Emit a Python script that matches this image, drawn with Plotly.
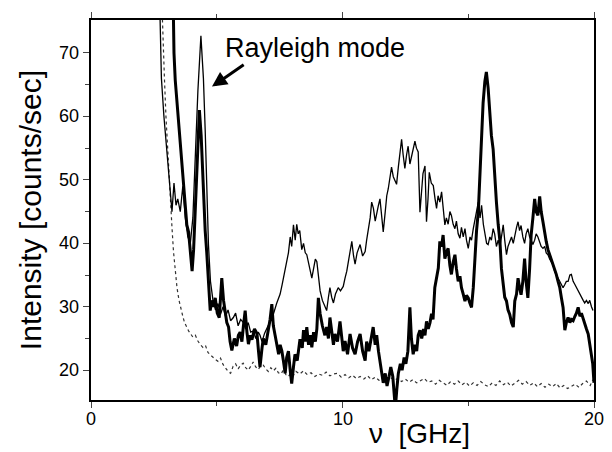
import plotly.graph_objects as go

# ---- data ----
thin_pts = [
    (2.72, 80), (2.80, 66), (2.90, 60), (3.00, 55), (3.10, 50), (3.22, 45), (3.30, 49.5), (3.38, 46),
    (3.45, 47), (3.55, 45), (3.65, 49), (3.75, 44), (3.85, 41), (3.95, 40), (4.05, 44), (4.15, 54),
    (4.25, 64), (4.37, 72.7), (4.47, 66), (4.54, 57.9), (4.60, 48), (4.67, 39.8), (4.75, 34), (4.85, 31),
    (4.95, 29.5), (5.05, 30.5), (5.15, 28.8), (5.25, 30), (5.35, 28.5), (5.45, 29.5), (5.55, 27.8),
    (5.66, 28.3), (5.75, 29), (5.85, 27), (5.95, 28), (6.06, 27.5), (6.15, 26.5), (6.25, 27.5), (6.35, 26),
    (6.46, 26.2), (6.55, 25), (6.65, 26), (6.72, 25.5), (6.80, 24.5), (6.90, 25.8), (6.99, 26.6),
    (7.10, 27.5), (7.25, 28.8), (7.38, 30.5), (7.52, 32), (7.60, 33.5), (7.70, 35.5), (7.78, 36.6),
    (7.85, 38.5), (7.92, 41), (7.98, 39.5), (8.05, 42.9), (8.12, 40.5), (8.18, 43), (8.24, 41.5),
    (8.30, 42), (8.38, 39), (8.45, 40), (8.52, 38.5), (8.58, 38.2), (8.65, 37), (8.72, 35.5), (8.78, 34.5),
    (8.85, 36), (8.92, 37.5), (8.98, 37.1), (9.05, 34), (9.11, 32.5), (9.20, 31), (9.30, 29.9), (9.37, 29.4),
    (9.44, 31.5), (9.50, 33), (9.57, 31.5), (9.64, 30.6), (9.72, 32), (9.83, 33), (9.92, 32.5), (10.03, 33.2),
    (10.10, 34.5), (10.17, 35.6), (10.25, 37.5), (10.30, 38.5), (10.37, 40.3), (10.44, 38), (10.50, 36.7),
    (10.58, 38.5), (10.65, 39.5), (10.70, 39.8), (10.80, 38), (10.90, 38.7), (10.96, 40.5), (11.03, 42.3),
    (11.10, 44), (11.16, 46.5), (11.23, 45.5), (11.30, 43.5), (11.36, 44.9), (11.43, 46), (11.49, 47),
    (11.56, 44.5), (11.62, 41.8), (11.70, 45), (11.76, 47.5), (11.82, 48.6), (11.88, 50), (11.95, 52),
    (12.02, 50.5), (12.08, 50), (12.15, 49.3), (12.22, 52), (12.28, 54.5), (12.35, 56.4), (12.41, 54),
    (12.48, 51.8), (12.55, 54), (12.61, 55.3), (12.68, 52.5), (12.74, 53.7), (12.81, 55), (12.88, 56.1),
    (12.94, 55), (13.01, 54.4), (13.08, 44.9), (13.14, 48), (13.20, 51), (13.28, 52.2), (13.34, 43.4),
    (13.40, 47), (13.45, 51.2), (13.53, 49.5), (13.61, 49.1), (13.68, 47), (13.74, 45.5), (13.80, 47.5),
    (13.87, 46.5), (13.94, 48.1), (14.00, 45), (14.07, 42.9), (14.13, 44), (14.20, 43), (14.27, 45),
    (14.33, 44.4), (14.40, 43), (14.47, 42.3), (14.53, 43.5), (14.60, 41.5), (14.67, 40.8), (14.73, 42.5),
    (14.80, 41), (14.87, 42.3), (14.93, 40.5), (15.00, 39.2), (15.07, 41), (15.13, 40.5), (15.20, 42.3),
    (15.27, 44), (15.33, 45.5), (15.40, 46.5), (15.47, 44), (15.53, 46), (15.60, 43), (15.67, 41),
    (15.73, 40), (15.79, 39.8), (15.86, 41), (15.92, 40.5), (15.99, 42.3), (16.05, 41.5), (16.12, 39.5),
    (16.19, 40.5), (16.26, 39.5), (16.32, 41), (16.39, 42.9), (16.45, 40.5), (16.52, 38.2), (16.58, 39.5),
    (16.65, 40.3), (16.72, 41), (16.79, 40), (16.85, 41.5), (16.92, 42.5), (16.98, 43.4), (17.04, 42),
    (17.10, 42.8), (17.17, 41), (17.24, 40), (17.30, 41.5), (17.37, 42.3), (17.44, 41), (17.50, 40.5),
    (17.57, 39.8), (17.64, 40.5), (17.70, 41.5), (17.77, 41), (17.84, 40), (17.90, 39.5), (17.97, 39.2),
    (18.04, 39.5), (18.10, 38.5), (18.17, 38.2), (18.24, 37.5), (18.30, 37), (18.37, 36.6), (18.44, 35.5),
    (18.50, 35), (18.57, 34.5), (18.64, 34), (18.70, 33.5), (18.77, 33), (18.84, 33.5), (18.90, 34),
    (18.97, 34), (19.04, 35), (19.10, 35.1), (19.17, 34), (19.24, 33.5), (19.30, 33), (19.37, 32.5),
    (19.43, 32), (19.50, 31.5), (19.57, 31), (19.63, 30.6), (19.70, 31), (19.77, 30.5), (19.83, 31),
    (19.90, 30), (19.96, 29.4),
]

thick_pts = [
    (3.24, 85), (3.30, 70), (3.35, 65.7), (3.48, 59), (3.61, 52.7), (3.74, 47), (3.81, 42.9), (3.88, 41.8),
    (3.95, 38), (4.02, 35.6), (4.08, 39), (4.15, 46), (4.22, 54), (4.31, 61), (4.38, 57), (4.46, 48),
    (4.54, 42), (4.60, 38.7), (4.67, 33.5), (4.74, 29.4), (4.80, 31), (4.87, 30), (4.94, 31.4), (5.02, 29),
    (5.10, 28.3), (5.20, 34.5), (5.27, 31), (5.33, 29), (5.40, 27.5), (5.47, 26.8), (5.53, 24.5), (5.60, 23.1),
    (5.70, 25), (5.79, 23.8), (5.86, 25.5), (5.93, 26), (6.00, 24.5), (6.06, 27), (6.13, 29.4), (6.20, 26),
    (6.26, 24.1), (6.33, 25.5), (6.40, 24.8), (6.50, 26.5), (6.60, 25.8), (6.66, 23), (6.72, 20.5),
    (6.80, 23.5), (6.85, 25), (6.95, 24), (7.05, 26), (7.12, 28), (7.19, 30.4), (7.25, 27), (7.32, 25.5),
    (7.40, 23.5), (7.46, 22.5), (7.52, 24), (7.59, 23), (7.65, 21.5), (7.72, 19.5), (7.78, 22), (7.85, 23),
    (7.92, 20), (7.98, 17.9), (8.05, 20.5), (8.11, 22.5), (8.20, 21.5), (8.31, 24.9), (8.40, 23.5),
    (8.45, 26.3), (8.52, 24.5), (8.58, 26.8), (8.65, 24), (8.72, 25.5), (8.78, 23.6), (8.85, 26),
    (8.92, 24.5), (8.98, 26.5), (9.04, 31.4), (9.11, 28.9), (9.20, 27), (9.30, 25.5), (9.37, 26.8),
    (9.44, 25), (9.50, 28.3), (9.57, 26), (9.64, 24), (9.70, 25.7), (9.80, 24.5), (9.90, 27.7), (9.96, 25),
    (10.03, 23), (10.10, 24.6), (10.20, 22.5), (10.30, 25.7), (10.40, 23.5), (10.50, 22.5), (10.60, 24.5),
    (10.70, 25.7), (10.80, 23), (10.90, 21.5), (10.96, 24.5), (11.05, 23), (11.15, 25), (11.22, 26.8),
    (11.30, 24), (11.36, 25.5), (11.43, 23), (11.49, 21.5), (11.55, 20), (11.62, 18), (11.70, 19.5),
    (11.77, 17.5), (11.85, 19), (11.92, 20.5), (12.00, 19), (12.06, 16), (12.10, 14), (12.16, 17),
    (12.22, 19.5), (12.30, 21), (12.37, 20), (12.45, 22), (12.52, 21), (12.60, 23), (12.68, 29.9),
    (12.74, 25), (12.81, 22.5), (12.88, 24), (12.95, 23), (13.01, 25.5), (13.08, 26.3), (13.15, 25),
    (13.22, 26.5), (13.28, 25.5), (13.34, 27.7), (13.41, 26.5), (13.48, 27.5), (13.54, 28.9), (13.60, 28),
    (13.67, 33), (13.74, 34.5), (13.81, 36.1), (13.87, 40.3), (13.94, 39.5), (14.00, 41.3), (14.07, 37.6),
    (14.13, 38.5), (14.20, 39.2), (14.27, 36.5), (14.33, 35.1), (14.40, 37), (14.47, 38.2), (14.53, 36),
    (14.60, 34), (14.67, 34.8), (14.73, 33), (14.80, 32), (14.87, 30.9), (14.93, 31.8), (15.00, 31.4),
    (15.07, 30.5), (15.13, 29.9), (15.20, 33), (15.26, 38.2), (15.33, 42), (15.40, 45), (15.46, 51.2),
    (15.52, 56), (15.59, 62.1), (15.66, 65.5), (15.72, 67), (15.79, 64.5), (15.86, 60.2), (15.92, 57),
    (15.99, 54.8), (16.05, 50), (16.12, 46.5), (16.19, 43), (16.26, 40.3), (16.32, 36), (16.39, 33),
    (16.45, 31.5), (16.52, 30.9), (16.58, 29.5), (16.65, 28.8), (16.72, 27.5), (16.79, 26.8), (16.85, 30.9),
    (16.92, 32), (16.98, 34.5), (17.04, 33), (17.10, 31.9), (17.17, 34), (17.24, 37.6), (17.30, 34),
    (17.37, 31.4), (17.44, 36), (17.50, 41.3), (17.57, 44), (17.64, 47), (17.70, 45), (17.77, 44.4),
    (17.84, 47.4), (17.90, 45), (17.97, 43.4), (18.04, 41.5), (18.10, 40.3), (18.17, 39), (18.24, 38.2),
    (18.30, 37.5), (18.37, 36.6), (18.44, 35.8), (18.50, 35.1), (18.57, 34), (18.64, 33), (18.70, 31.5),
    (18.77, 29.9), (18.84, 26.3), (18.90, 27.5), (18.97, 28.3), (19.04, 27.5), (19.10, 28), (19.17, 27.8),
    (19.24, 28.5), (19.30, 29), (19.37, 29.9), (19.44, 28.5), (19.50, 29), (19.57, 28), (19.63, 27.3),
    (19.70, 26.5), (19.77, 25.7), (19.84, 24), (19.90, 22), (19.95, 21), (20.00, 18),
]

dotted_pts = [
    (2.80, 80), (2.86, 72), (2.92, 66), (2.98, 60), (3.04, 55), (3.10, 50.5), (3.16, 46.5), (3.22, 42.5),
    (3.28, 38.7), (3.35, 35.5), (3.42, 33), (3.50, 31), (3.58, 29.5), (3.65, 28.5), (3.72, 27.5),
    (3.80, 26.8), (3.88, 26.2), (3.95, 25.8), (4.05, 25.2), (4.15, 25.5), (4.25, 24.6), (4.35, 24.0),
    (4.45, 23.6), (4.55, 23.9), (4.65, 22.8), (4.75, 22.4), (4.85, 22.0), (4.95, 21.7), (5.05, 21.4),
    (5.15, 21.9), (5.25, 20.9), (5.35, 20.3), (5.45, 19.8), (5.55, 19.5), (5.65, 20.6), (5.75, 21.0),
    (5.85, 20.2), (5.95, 20.8), (6.05, 21.1), (6.15, 20.4), (6.25, 20.0), (6.35, 20.6), (6.45, 21.3),
    (6.55, 20.5), (6.65, 20.1), (6.75, 20.7), (6.85, 20.8), (6.95, 20.2), (7.05, 19.8), (7.15, 20.4),
    (7.25, 19.9), (7.35, 20.3), (7.45, 19.6), (7.55, 19.4), (7.65, 20.0), (7.75, 19.3), (7.85, 19.0),
    (7.95, 19.6), (8.05, 19.2), (8.15, 19.8), (8.30, 19.4), (8.45, 19.9), (8.60, 19.3), (8.75, 19.6),
    (8.90, 19.0), (9.05, 19.4), (9.20, 19.2), (9.35, 19.7), (9.50, 19.1), (9.65, 19.4), (9.80, 19.5),
    (9.95, 18.9), (10.10, 19.3), (10.25, 18.8), (10.40, 19.2), (10.55, 18.7), (10.70, 19.0), (10.85, 18.6),
    (11.00, 19.1), (11.15, 18.5), (11.30, 18.9), (11.45, 18.4), (11.60, 18.8), (11.75, 18.3), (11.90, 18.9),
    (12.05, 18.4), (12.20, 18.7), (12.35, 18.2), (12.50, 18.6), (12.65, 18.1), (12.80, 18.5), (12.95, 18.0),
    (13.10, 18.4), (13.25, 18.7), (13.40, 18.1), (13.55, 18.3), (13.70, 17.8), (13.85, 18.4), (14.00, 18.0),
    (14.15, 17.6), (14.30, 18.2), (14.45, 17.8), (14.60, 18.3), (14.75, 17.7), (14.90, 18.1), (15.05, 17.5),
    (15.20, 18.0), (15.35, 17.6), (15.50, 18.2), (15.65, 17.7), (15.80, 17.4), (15.95, 18.0), (16.10, 17.6),
    (16.25, 18.3), (16.40, 17.7), (16.55, 18.1), (16.70, 17.5), (16.85, 18.0), (17.00, 18.4), (17.15, 17.8),
    (17.30, 18.2), (17.45, 17.6), (17.60, 18.0), (17.75, 17.4), (17.90, 17.9), (18.05, 17.3), (18.20, 17.8),
    (18.35, 17.4), (18.50, 17.9), (18.65, 17.2), (18.80, 17.6), (18.95, 17.1), (19.10, 17.5), (19.25, 17.8),
    (19.40, 17.3), (19.55, 17.9), (19.70, 18.3), (19.85, 17.6), (19.95, 18.5),
]

x_ticks = [0, 10, 20]
x_minor = [5, 15]
y_ticks = [20, 30, 40, 50, 60, 70]
y_minor = [25, 35, 45, 55, 65]
x_range = [0, 20]
y_range = [15.3, 75.2]

annot_text = "Rayleigh mode"
annot_pos = (5.25, 70.8)
arrow_tip = (4.81, 64.7)
arrow_tail = (6.13, 68.3)

def unzip(pts):
    return [p[0] for p in pts], [p[1] for p in pts]

fig = go.Figure()
dx, dy = unzip(dotted_pts)
fig.add_trace(go.Scatter(x=dx, y=dy, mode="lines",
                         line=dict(color="#333", width=1.2, dash="dot"), showlegend=False))
tx, ty = unzip(thin_pts)
fig.add_trace(go.Scatter(x=tx, y=ty, mode="lines",
                         line=dict(color="black", width=1.3), showlegend=False))
kx, ky = unzip(thick_pts)
fig.add_trace(go.Scatter(x=kx, y=ky, mode="lines",
                         line=dict(color="black", width=3), showlegend=False))

font = "Liberation Sans, Arial, sans-serif"
fig.update_layout(
    width=612, height=452,
    margin=dict(l=91, r=18, t=16, b=52),
    paper_bgcolor="white", plot_bgcolor="white",
    font=dict(family=font, color="black"),
    xaxis=dict(range=x_range, tickvals=x_ticks, ticks="outside", ticklen=6, tickwidth=1.3,
               showline=True, linecolor="black", linewidth=1.5, mirror="ticks",
               showgrid=False, zeroline=False, showticklabels=False,
               minor=dict(tickvals=x_minor, ticks="outside", ticklen=4, tickwidth=1.3)),
    yaxis=dict(range=y_range, tickvals=y_ticks, ticks="outside", ticklen=6, tickwidth=1.3,
               showline=True, linecolor="black", linewidth=1.5, mirror=True,
               showgrid=False, zeroline=False, showticklabels=False,
               minor=dict(tickvals=y_minor, ticks="outside", ticklen=4, tickwidth=1.3)),
)

# tick labels placed next to the ticks
for v in y_ticks:
    fig.add_annotation(x=0, y=v, xref="paper", yref="y", text=str(v), showarrow=False,
                       xanchor="right", yanchor="middle", xshift=-10,
                       font=dict(size=18, family=font, color="black"))
for v in x_ticks:
    fig.add_annotation(x=v, y=0, xref="x", yref="paper", text=str(v), showarrow=False,
                       xanchor="center", yanchor="top", yshift=-7,
                       font=dict(size=18, family=font, color="black"))

fig.add_annotation(x=annot_pos[0], y=annot_pos[1], xref="x", yref="y", text=annot_text,
                   showarrow=False, xanchor="left", yanchor="middle",
                   font=dict(size=27, family=font, color="black"))
fig.add_annotation(x=arrow_tip[0], y=arrow_tip[1], xref="x", yref="y",
                   ax=arrow_tail[0], ay=arrow_tail[1], axref="x", ayref="y",
                   text="", showarrow=True, arrowhead=2, arrowsize=1, arrowwidth=3,
                   arrowcolor="black")
fig.add_annotation(x=0.654, y=-0.088, xref="paper", yref="paper", text="ν  [GHz]",
                   showarrow=False, xanchor="center", yanchor="middle",
                   font=dict(size=28, family=font, color="black"))
fig.add_annotation(x=-0.121, y=0.5, xref="paper", yref="paper", text="Intensity [counts/sec]",
                   showarrow=False, xanchor="center", yanchor="middle", textangle=-90,
                   font=dict(size=30, family=font, color="black"))

fig.write_html("out.html")
